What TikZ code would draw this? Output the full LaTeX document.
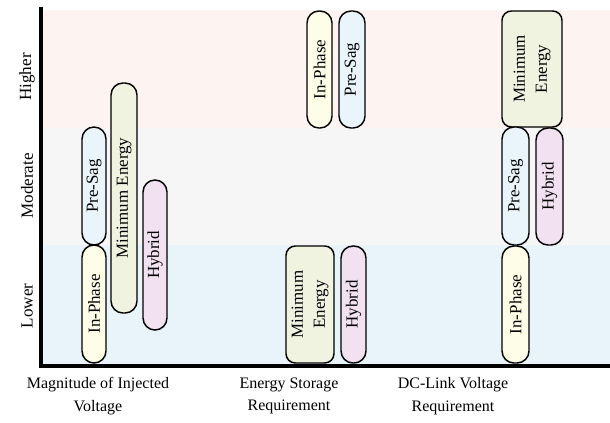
\documentclass[tikz,border=0pt]{standalone}
\usepackage{fontspec}
\setmainfont{Liberation Serif}
\definecolor{bandhi}{HTML}{FDF4F2}
\definecolor{bandmid}{HTML}{F6F6F6}
\definecolor{bandlo}{HTML}{E8F4FA}
\definecolor{cin}{HTML}{FEFDE8}
\definecolor{cpre}{HTML}{EAF4FB}
\definecolor{cmin}{HTML}{F1F3E1}
\definecolor{chyb}{HTML}{F1E1F1}
\tikzset{
  boxst/.style={draw=black, line width=1.1pt, inner sep=0pt, align=center, font=\fontsize{12.7}{16.5}\selectfont},
  lbl/.style={font=\fontsize{12}{17}\selectfont, align=center, inner sep=0pt},
  ylbl/.style={font=\fontsize{12.8}{15}\selectfont, inner sep=0pt, rotate=90},
  axisst/.style={line width=2.3pt, line cap=rect}
}
\newcommand\mybox[8]{\node[boxst, fill=#6, rounded corners=#8, minimum width={(#5-#3)*0.75pt}, minimum height={(#4-#2)*0.75pt}, rotate=90] (#1) at ({(#2+#4)/2},{(#3+#5)/2}) {#7};}
\begin{document}
\begin{tikzpicture}[x=0.75pt,y=-0.75pt]
\useasboundingbox (0,0) rectangle (610,422);
% bands
\fill[bandhi] (43,10) rectangle (610,128);
\fill[bandmid] (43,128) rectangle (610,245);
\fill[bandlo] (43,245) rectangle (610,365);
% axes
\coordinate (o) at (41,366);
\coordinate (ytop) at (41,9);
\coordinate (xend) at (610,366);
\draw[axisst] (ytop) -- (o) -- (xend);
% y labels
\node[ylbl] (hi) at (27,77) {Higher};
\node[ylbl] (mo) at (27,186) {Moderate};
\node[ylbl] (lo) at (27,306) {Lower};
% group 1
\mybox{a1}{82}{245}{106}{363}{cin}{In-Phase}{9pt}
\mybox{a2}{82}{127}{106}{245}{cpre}{Pre-Sag}{9pt}
\mybox{a3}{111}{83}{137}{313}{cmin}{Minimum Energy}{9pt}
\mybox{a4}{143}{180}{167}{330}{chyb}{Hybrid}{9pt}
% group 2
\mybox{b1}{286}{246}{334}{363}{cmin}{Minimum\\Energy}{7pt}
\mybox{b2}{341}{246}{366}{363}{chyb}{Hybrid}{9pt}
\mybox{b3}{307}{11}{332}{128}{cin}{In-Phase}{9pt}
\mybox{b4}{339}{11}{365}{128}{cpre}{Pre-Sag}{9pt}
% group 3
\mybox{c1}{502}{11}{562}{127}{cmin}{Minimum\\Energy}{7pt}
\mybox{c2}{502}{127}{529}{245}{cpre}{Pre-Sag}{9pt}
\mybox{c3}{536}{128}{563}{245}{chyb}{Hybrid}{9pt}
\mybox{c4}{502}{246}{529}{363}{cin}{In-Phase}{9pt}
% x labels
\node[lbl] (xl1) at (98,396) {Magnitude of Injected\\Voltage};
\node[lbl] (xl2) at (289,396) {Energy Storage\\Requirement};
\node[lbl] (xl3) at (453,396) {DC-Link Voltage\\Requirement};
\end{tikzpicture}
\end{document}
